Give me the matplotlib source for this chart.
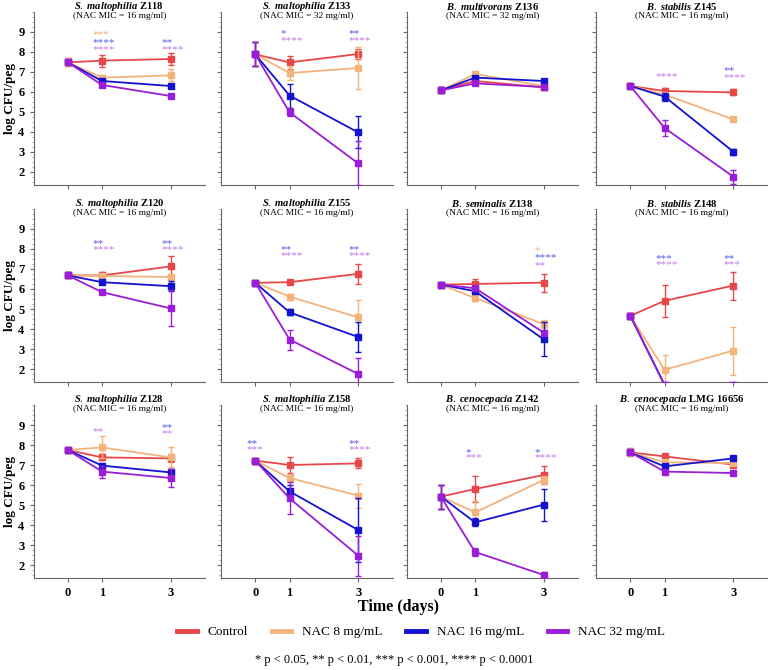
import matplotlib
matplotlib.use('Agg')
import matplotlib.pyplot as plt
from matplotlib.lines import Line2D
from matplotlib.ticker import MultipleLocator

plt.rcParams['font.family'] = ['Liberation Serif', 'DejaVu Serif']
plt.rcParams['mathtext.fontset'] = 'custom'
plt.rcParams['mathtext.it'] = 'Liberation Serif:italic:bold'
plt.rcParams['mathtext.bf'] = 'Liberation Serif:bold'
plt.rcParams['mathtext.rm'] = 'Liberation Serif'

# data
days = [0, 1, 3]
species = ['S. maltophilia', 'S. maltophilia', 'B. multivorans', 'B. stabilis',
           'S. maltophilia', 'S. maltophilia', 'B. seminalis', 'B. stabilis',
           'S. maltophilia', 'S. maltophilia', 'B. cenocepacia', 'B. cenocepacia']
strains = ['Z118', 'Z133', 'Z136', 'Z145', 'Z120', 'Z155', 'Z138', 'Z148',
           'Z128', 'Z158', 'Z142', 'LMG 16656']
mic = [16, 32, 32, 16, 16, 16, 16, 16, 16, 16, 16, 16]

control = [[7.48, 7.57, 7.65], [7.88, 7.48, 7.9], [6.08, 6.55, 6.23], [6.3, 6.05, 5.98],
           [6.68, 6.68, 7.13], [6.31, 6.34, 6.76], [6.22, 6.25, 6.32], [4.66, 5.41, 6.17],
           [7.75, 7.38, 7.33], [7.22, 7.0, 7.08], [5.42, 5.8, 6.5], [7.63, 7.43, 7.02]]
control_err = [[0.2, 0.3, 0.3], [0.6, 0.33, 0.25], [0.15, 0.1, 0.15], [0.05, 0.15, 0.15],
               [0.15, 0.15, 0.5], [0.05, 0.08, 0.5], [0.05, 0.25, 0.45], [0.15, 0.8, 0.7],
               [0.1, 0.15, 0.2], [0.15, 0.4, 0.25], [0.6, 0.65, 0.45], [0.2, 0.05, 0.05]]
nac8 = [[7.48, 6.72, 6.83], [7.88, 6.95, 7.2], [6.08, 6.9, 6.3], [6.3, 5.87, 4.63],
        [6.68, 6.65, 6.6], [6.31, 5.62, 4.58], [6.22, 5.55, 4.24], [4.66, 1.96, 2.92],
        [7.75, 7.88, 7.38], [7.22, 6.35, 5.47], [5.42, 4.63, 6.25], [7.63, 7.13, 7.1]]
nac8_err = [[0.2, 0.15, 0.3], [0.6, 0.35, 1.05], [0.15, 0.15, 0.1], [0.05, 0.1, 0.1],
            [0.15, 0.1, 0.1], [0.05, 0.15, 0.85], [0.05, 0.15, 0.2], [0.15, 0.75, 1.2],
            [0.1, 0.55, 0.5], [0.15, 0.2, 0.6], [0.6, 0.55, 0.2], [0.2, 0.05, 0.05]]
nac16 = [[7.48, 6.55, 6.3], [7.88, 5.82, 3.98], [6.08, 6.72, 6.55], [6.3, 5.77, 3.02],
         [6.68, 6.34, 6.14], [6.31, 4.83, 3.6], [6.22, 5.89, 3.48], [4.66, 1.2, 1.2],
         [7.75, 6.97, 6.63], [7.22, 5.68, 3.75], [5.42, 4.13, 5.02], [7.63, 6.93, 7.33]]
nac16_err = [[0.1, 0.05, 0.1], [0.6, 0.6, 0.8], [0.1, 0.1, 0.1], [0.05, 0.2, 0.15],
             [0.1, 0.1, 0.25], [0.05, 0.15, 0.75], [0.05, 0.1, 0.85], [0.1, 0, 0],
             [0.1, 0.1, 0.15], [0.1, 0.3, 1.6], [0.6, 0.2, 0.8], [0.1, 0.05, 0.1]]
nac32 = [[7.48, 6.35, 5.8], [7.88, 4.98, 2.43], [6.08, 6.43, 6.25], [6.3, 4.2, 1.77],
         [6.68, 5.84, 5.03], [6.31, 3.47, 1.75], [6.22, 6.04, 3.82], [4.66, 1.2, 1.2],
         [7.75, 6.67, 6.35], [7.22, 5.33, 2.47], [5.42, 2.65, 1.5], [7.63, 6.67, 6.6]]
nac32_err = [[0.1, 0.1, 0.1], [0.6, 0.2, 1.1], [0.1, 0.1, 0.1], [0.05, 0.38, 0.35],
             [0.1, 0.1, 0.9], [0.05, 0.5, 0.8], [0.05, 0.1, 0.1], [0.1, 0, 0],
             [0.1, 0.3, 0.45], [0.1, 0.8, 1.0], [0.6, 0.2, 0.15], [0.1, 0.05, 0.05]]

# significance marks: (day, series, stars, height)
stars = [
    [(1, 8, '***', 8.85), (1, 16, '****', 8.45), (1, 32, '****', 8.1), (3, 16, '**', 8.45), (3, 32, '****', 8.1)],
    [(1, 16, '*', 8.9), (1, 32, '****', 8.55), (3, 16, '**', 8.9), (3, 32, '****', 8.55)],
    [],
    [(1, 32, '****', 6.75), (3, 16, '**', 7.05), (3, 32, '****', 6.7)],
    [(1, 16, '**', 8.27), (1, 32, '****', 7.97), (3, 16, '**', 8.27), (3, 32, '****', 7.97)],
    [(1, 16, '**', 7.97), (1, 32, '****', 7.67), (3, 16, '**', 7.97), (3, 32, '****', 7.67)],
    [(3, 8, '*', 7.93), (3, 16, '****', 7.58), (3, 32, '**', 7.17)],
    [(1, 16, '***', 7.52), (1, 32, '****', 7.22), (3, 16, '**', 7.52), (3, 32, '***', 7.22)],
    [(1, 32, '**', 8.68), (3, 16, '**', 8.88), (3, 32, '**', 8.55)],
    [(0, 16, '**', 8.05), (0, 32, '***', 7.75), (3, 16, '**', 8.05), (3, 32, '****', 7.75)],
    [(1, 16, '*', 7.63), (1, 32, '***', 7.35), (3, 16, '*', 7.63), (3, 32, '****', 7.35)],
    [],
]

labels = ['Control', 'NAC 8 mg/mL', 'NAC 16 mg/mL', 'NAC 32 mg/mL']
colors = ['#E8474A', '#F2B37C', '#1212D0', '#9A1ED8']
star_colors = {8: '#F0B070', 16: '#5A5AE6', 32: '#C27AE6'}

W, H = 768, 670
fig = plt.figure(figsize=(W / 100, H / 100), dpi=100)

col_left = [33.5, 221, 406.5, 596]
row_top = [12, 209, 405]
aw, ah = 171.5, 173

series = [(nac32, nac32_err, 3), (nac16, nac16_err, 2), (nac8, nac8_err, 1), (control, control_err, 0)]

for i in range(12):
    r, c = divmod(i, 4)
    ax = fig.add_axes([col_left[c] / W, 1 - (row_top[r] + ah) / H, aw / W, ah / H])
    for vals, errs, k in series:
        ax.errorbar(days, vals[i], yerr=errs[i], color=colors[k], marker='s', ms=4,
                    lw=1.3, elinewidth=1.0, capsize=2, capthick=1.0, zorder=3 + k)
    for d, s, txt, y in stars[i]:
        ax.text(d - 0.27, y, txt, color=star_colors[s], fontsize=8, ha='left', va='center')

    ax.set_xlim(-1, 4)
    ax.set_ylim(1.35, 10)
    ax.set_xticks(days)
    ax.set_yticks(range(2, 10))
    ax.yaxis.set_minor_locator(MultipleLocator(0.25))
    for side in ['top', 'right']:
        ax.spines[side].set_visible(False)
    for side in ['left', 'bottom']:
        ax.spines[side].set_color('#666666')
        ax.spines[side].set_linewidth(0.8)
    ax.tick_params(colors='#666666', length=3, width=0.8, labelcolor='black')
    ax.tick_params(axis='y', which='minor', length=1.5, width=0.5, colors='#888888')
    if c == 0:
        ax.set_yticklabels([str(v) for v in range(2, 10)], fontweight='bold', fontsize=9)
        ax.set_ylabel('log CFU/peg', fontweight='bold', fontsize=9.5, labelpad=1.5)
    else:
        ax.set_yticklabels([])
    if r == 2:
        ax.set_xticklabels([str(d) for d in days], fontweight='bold', fontsize=9)
    else:
        ax.set_xticklabels([])

    title = r'$\mathit{' + species[i].replace(' ', r'\ ') + r'}$ $\mathbf{' + strains[i].replace(' ', r'\ ') + '}$'
    ax.text(0.5, 1.033, title, transform=ax.transAxes, ha='center', va='center', fontsize=7.6)
    ax.text(0.5, 0.975, '(NAC MIC = %d mg/ml)' % mic[i], transform=ax.transAxes,
            ha='center', va='center', fontsize=6.8)

fig.text(398 / W, 1 - 607 / H, 'Time (days)', ha='center', va='center', fontsize=11.5, fontweight='bold')

handles = [Line2D([0], [0], color=col, lw=3.5) for col in colors]
fig.legend(handles, labels, loc='center', bbox_to_anchor=(421 / W, 1 - 632 / H), ncol=4,
           frameon=False, fontsize=9.5, handlelength=1.5, columnspacing=1.8, handletextpad=0.8)

fig.text(394 / W, 1 - 660 / H, '* p < 0.05, ** p < 0.01, *** p < 0.001, **** p < 0.0001',
         ha='center', va='center', fontsize=9)

fig.savefig('out.png', dpi=100)
